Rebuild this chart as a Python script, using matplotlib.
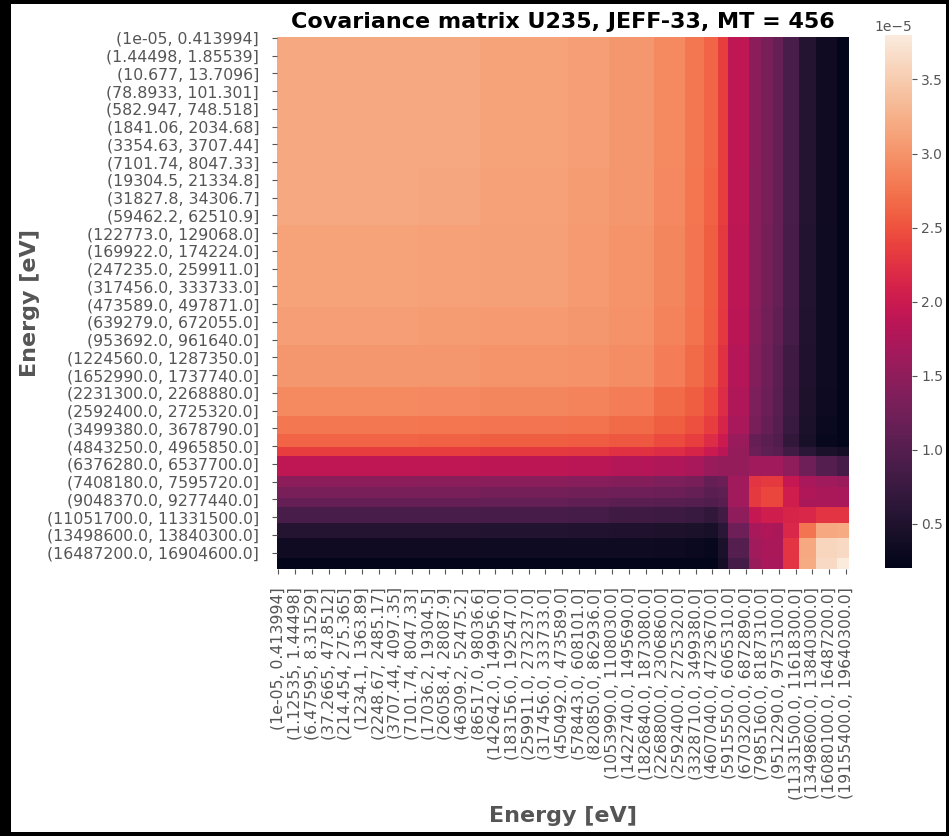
import numpy as np
import matplotlib
matplotlib.use("Agg")
import matplotlib.pyplot as plt
import seaborn as sns
from matplotlib.patches import Rectangle

# ---------------- data ----------------
n_bins = 240  # number of energy intervals on each axis
# coarse covariance blocks: bin index where each block starts (last = end)
group_edges = [0, 59, 85, 122, 139, 158, 171, 179, 185, 189, 198, 203, 208,
               212, 219, 226, 235, 240]
# covariance of each block pair, in units of 1e-5
cov_blocks = [
    [3.17, 3.17, 3.13, 3.09, 3.04, 2.92, 2.78, 2.62, 2.35, 1.90, 1.46, 1.30, 1.15, 0.90, 0.55, 0.35, 0.203],
    [3.17, 3.16, 3.12, 3.08, 3.03, 2.91, 2.77, 2.61, 2.34, 1.90, 1.45, 1.30, 1.15, 0.90, 0.55, 0.35, 0.21],
    [3.13, 3.12, 3.10, 3.06, 3.01, 2.89, 2.75, 2.59, 2.32, 1.88, 1.45, 1.28, 1.14, 0.88, 0.54, 0.34, 0.21],
    [3.09, 3.08, 3.06, 3.04, 2.99, 2.87, 2.74, 2.57, 2.30, 1.85, 1.43, 1.25, 1.10, 0.85, 0.52, 0.33, 0.21],
    [3.04, 3.03, 3.01, 2.99, 2.95, 2.82, 2.68, 2.54, 2.25, 1.80, 1.40, 1.22, 1.06, 0.80, 0.50, 0.33, 0.21],
    [2.92, 2.91, 2.89, 2.87, 2.82, 2.68, 2.58, 2.44, 2.20, 1.75, 1.35, 1.20, 1.04, 0.78, 0.48, 0.32, 0.21],
    [2.78, 2.77, 2.75, 2.74, 2.68, 2.58, 2.48, 2.35, 2.12, 1.70, 1.30, 1.15, 1.00, 0.75, 0.46, 0.30, 0.21],
    [2.62, 2.61, 2.59, 2.57, 2.54, 2.44, 2.35, 2.20, 2.00, 1.58, 1.15, 1.05, 0.96, 0.68, 0.44, 0.27, 0.21],
    [2.35, 2.34, 2.32, 2.30, 2.25, 2.20, 2.12, 2.00, 1.85, 1.55, 1.20, 1.08, 1.02, 0.82, 0.61, 0.46, 0.40],
    [1.90, 1.90, 1.88, 1.85, 1.80, 1.75, 1.70, 1.58, 1.55, 1.55, 1.65, 1.65, 1.64, 1.50, 1.22, 1.00, 0.85],
    [1.46, 1.45, 1.45, 1.43, 1.40, 1.35, 1.30, 1.15, 1.20, 1.65, 2.27, 2.32, 2.32, 1.95, 1.70, 1.65, 1.58],
    [1.30, 1.30, 1.28, 1.25, 1.22, 1.20, 1.15, 1.05, 1.08, 1.65, 2.32, 2.42, 2.42, 2.05, 1.75, 1.72, 1.70],
    [1.15, 1.15, 1.14, 1.10, 1.06, 1.04, 1.00, 0.96, 1.02, 1.64, 2.32, 2.42, 2.42, 2.05, 1.73, 1.72, 1.70],
    [0.90, 0.90, 0.88, 0.85, 0.80, 0.78, 0.75, 0.68, 0.82, 1.50, 1.95, 2.05, 2.05, 2.12, 2.15, 2.28, 2.28],
    [0.55, 0.55, 0.54, 0.52, 0.50, 0.48, 0.46, 0.44, 0.61, 1.22, 1.70, 1.75, 1.73, 2.15, 2.75, 3.18, 3.20],
    [0.35, 0.35, 0.34, 0.33, 0.33, 0.32, 0.30, 0.27, 0.46, 1.00, 1.65, 1.72, 1.72, 2.28, 3.18, 3.60, 3.63],
    [0.203, 0.21, 0.21, 0.21, 0.21, 0.21, 0.21, 0.21, 0.40, 0.85, 1.58, 1.70, 1.70, 2.28, 3.20, 3.63, 3.80],
]
cov_scale = 1e-5

x_label_step = 7
x_tick_labels = [
    "(1e-05, 0.413994]", "(1.12535, 1.44498]", "(6.47595, 8.31529]",
    "(37.2665, 47.8512]", "(214.454, 275.365]", "(1234.1, 1363.89]",
    "(2248.67, 2485.17]", "(3707.44, 4097.35]", "(7101.74, 8047.33]",
    "(17036.2, 19304.5]", "(26058.4, 28087.9]", "(46309.2, 52475.2]",
    "(86517.0, 98036.6]", "(142642.0, 149956.0]", "(183156.0, 192547.0]",
    "(259911.0, 273237.0]", "(317456.0, 333733.0]", "(450492.0, 473589.0]",
    "(578443.0, 608101.0]", "(820850.0, 862936.0]", "(1053990.0, 1108030.0]",
    "(1422740.0, 1495690.0]", "(1826840.0, 1873080.0]", "(2268800.0, 2306860.0]",
    "(2592400.0, 2725320.0]", "(3328710.0, 3499380.0]", "(4607040.0, 4723670.0]",
    "(5915550.0, 6065310.0]", "(6703200.0, 6872890.0]", "(7985160.0, 8187310.0]",
    "(9512290.0, 9753100.0]", "(11331500.0, 11618300.0]", "(13498600.0, 13840300.0]",
    "(16080100.0, 16487200.0]", "(19155400.0, 19640300.0]",
]
y_label_step = 8
y_tick_labels = [
    "(1e-05, 0.413994]", "(1.44498, 1.85539]", "(10.677, 13.7096]",
    "(78.8933, 101.301]", "(582.947, 748.518]", "(1841.06, 2034.68]",
    "(3354.63, 3707.44]", "(7101.74, 8047.33]", "(19304.5, 21334.8]",
    "(31827.8, 34306.7]", "(59462.2, 62510.9]", "(122773.0, 129068.0]",
    "(169922.0, 174224.0]", "(247235.0, 259911.0]", "(317456.0, 333733.0]",
    "(473589.0, 497871.0]", "(639279.0, 672055.0]", "(953692.0, 961640.0]",
    "(1224560.0, 1287350.0]", "(1652990.0, 1737740.0]", "(2231300.0, 2268880.0]",
    "(2592400.0, 2725320.0]", "(3499380.0, 3678790.0]", "(4843250.0, 4965850.0]",
    "(6376280.0, 6537700.0]", "(7408180.0, 7595720.0]", "(9048370.0, 9277440.0]",
    "(11051700.0, 11331500.0]", "(13498600.0, 13840300.0]", "(16487200.0, 16904600.0]",
]

title = "Covariance matrix U235, JEFF-33, MT = 456"
axis_label = "Energy [eV]"

# ---------------- build matrix ----------------
sizes = np.diff(group_edges)
C = np.array(cov_blocks) * cov_scale
matrix = np.repeat(np.repeat(C, sizes, axis=0), sizes, axis=1)
assert matrix.shape == (n_bins, n_bins)

# ---------------- figure ----------------
W, H = 949, 836
fig = plt.figure(figsize=(W / 100, H / 100), dpi=100)
ax = fig.add_axes([277.3 / W, 1 - 569.3 / H, 572.0 / W, 532.6 / H])
cax = fig.add_axes([885.0 / W, 1 - 568.0 / H, 26.7 / W, 533.0 / H])

sns.heatmap(matrix, ax=ax, cbar_ax=cax, cmap="rocket",
            xticklabels=False, yticklabels=False)

gray = "#555555"
ax.set_xticks(np.arange(len(x_tick_labels)) * x_label_step + 0.5)
ax.set_xticklabels(x_tick_labels, rotation=90, fontsize=11.3, color=gray)
ax.set_yticks(np.arange(len(y_tick_labels)) * y_label_step + 0.5)
ax.set_yticklabels(y_tick_labels, rotation=0, fontsize=11.3, color=gray)
ax.tick_params(axis="both", length=3.5, width=0.8, color=gray, pad=9.5)

ax.set_title(title, fontsize=16, fontweight="bold", color="black", pad=6)
ax.set_xlabel(axis_label, fontsize=16, fontweight="bold", color=gray)
ax.set_ylabel(axis_label, fontsize=16, fontweight="bold", color=gray)
ax.xaxis.set_label_coords(0.5, -0.444)
ax.yaxis.set_label_coords(-0.415, 0.5)

cax.tick_params(labelsize=10, labelcolor=gray, color=gray, length=3.5)
cax.yaxis.get_offset_text().set_fontsize(10)
cax.yaxis.get_offset_text().set_color(gray)

# black screenshot frame
for (x0, y0, w, h) in [(0, 0, 11, H), (0, 0, W, 4), (0, H - 4, W, 4), (W - 3, 0, 3, H)]:
    fig.add_artist(Rectangle((x0 / W, 1 - (y0 + h) / H), w / W, h / H,
                             transform=fig.transFigure, color="black", lw=0))

fig.savefig("out.png", dpi=100)
